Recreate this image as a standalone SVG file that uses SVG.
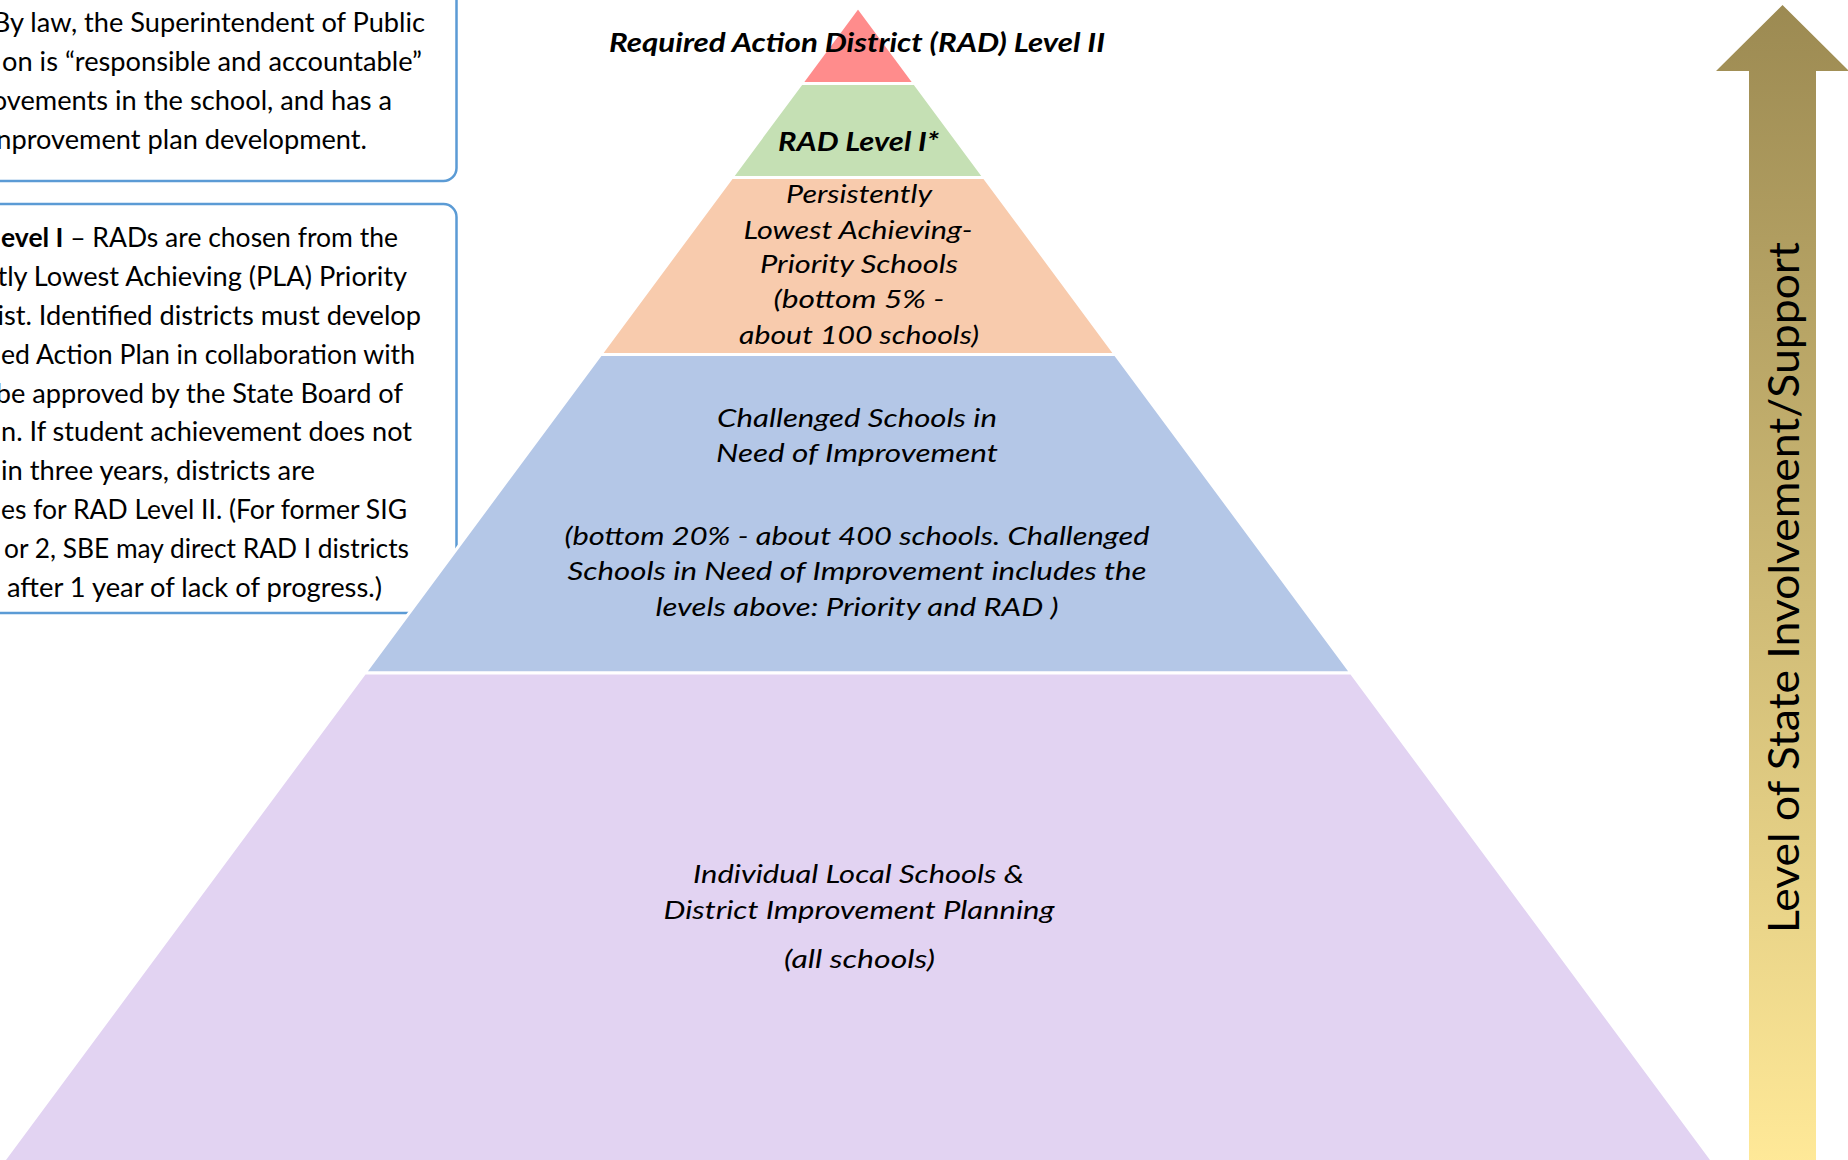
<svg xmlns="http://www.w3.org/2000/svg" width="1848" height="1160" viewBox="0 0 1848 1160">
  <defs>
    <linearGradient id="arrowFill" x1="0" y1="0" x2="0" y2="1">
      <stop offset="0" stop-color="#9C8A52"/>
      <stop offset="1" stop-color="#FFE998"/>
    </linearGradient>
    <style>
      .box { fill: #FFFFFF; stroke: #5B9BD5; stroke-width: 2.5; }
      .note { font-family: Lato, "Liberation Sans", sans-serif; font-size: 27.2px; fill: #000000; text-anchor: end; }
      .strong { font-weight: bold; }
      .tier { stroke: #FFFFFF; stroke-width: 3; stroke-linejoin: miter; }
      .label { font-family: Lato, "Liberation Sans", sans-serif; font-size: 26px; font-style: italic; fill: #000000; text-anchor: middle; }
      .title { font-weight: bold; }
      .axis { font-family: Lato, "Liberation Sans", sans-serif; font-size: 43px; fill: #000000; text-anchor: middle; }
    </style>
  </defs>

  <rect width="1848" height="1160" fill="#FFFFFF"/>

  <!-- Note boxes on the left (text runs past the left edge) -->
  <g id="note-rad2">
    <rect class="box" x="-20" y="-20" width="476.5" height="201" rx="13"/>
    <text class="note" x="425" y="32">By law, the Superintendent of Public</text>
    <text class="note" x="422" y="71" textLength="420" lengthAdjust="spacingAndGlyphs">on is “responsible and accountable”</text>
    <text class="note" x="392" y="110">ovements in the school, and has a</text>
    <text class="note" x="367" y="149">nprovement plan development.</text>
  </g>

  <g id="note-rad1">
    <rect class="box" x="-20" y="204" width="476.5" height="409" rx="13"/>
    <text class="note" x="398" y="247" textLength="397" lengthAdjust="spacingAndGlyphs"><tspan class="strong">evel I</tspan> – RADs are chosen from the</text>
    <text class="note" x="407" y="286">ntly Lowest Achieving (PLA) Priority</text>
    <text class="note" x="421" y="325">ist. Identified districts must develop</text>
    <text class="note" x="415" y="364" textLength="414" lengthAdjust="spacingAndGlyphs">ed Action Plan in collaboration with</text>
    <text class="note" x="403" y="403">be approved by the State Board of</text>
    <text class="note" x="412" y="441" textLength="411" lengthAdjust="spacingAndGlyphs">n. If student achievement does not</text>
    <text class="note" x="315" y="480" textLength="314" lengthAdjust="spacingAndGlyphs">in three years, districts are</text>
    <text class="note" x="407" y="519" textLength="406" lengthAdjust="spacingAndGlyphs">es for RAD Level II. (For former SIG</text>
    <text class="note" x="409" y="558" textLength="405" lengthAdjust="spacingAndGlyphs">or 2, SBE may direct RAD I districts</text>
    <text class="note" x="382" y="597" textLength="375" lengthAdjust="spacingAndGlyphs">after 1 year of lack of progress.)</text>
  </g>

  <!-- Pyramid tiers, top to bottom -->
  <g id="tier-rad2">
    <polygon class="tier" fill="#FF8C8C" points="858,7 914.7,83.5 801.3,83.5"/>
    <text class="label title" x="857" y="52" textLength="496" lengthAdjust="spacingAndGlyphs">Required Action District (RAD) Level II</text>
  </g>

  <g id="tier-rad1">
    <polygon class="tier" fill="#C5E0B4" points="801.3,83.5 914.7,83.5 984.3,177.5 731.7,177.5"/>
    <text class="label title" x="858.5" y="151" textLength="161" lengthAdjust="spacingAndGlyphs">RAD Level I*</text>
  </g>

  <g id="tier-priority">
    <polygon class="tier" fill="#F8CBAD" points="731.7,177.5 984.3,177.5 1115.4,354.5 600.6,354.5"/>
    <text class="label" x="859" y="203" textLength="146" lengthAdjust="spacingAndGlyphs">Persistently</text>
    <text class="label" x="858" y="239" textLength="229" lengthAdjust="spacingAndGlyphs">Lowest Achieving-</text>
    <text class="label" x="859" y="273" textLength="198" lengthAdjust="spacingAndGlyphs">Priority Schools</text>
    <text class="label" x="859" y="308" textLength="171" lengthAdjust="spacingAndGlyphs">(bottom 5% -</text>
    <text class="label" x="859" y="344" textLength="240" lengthAdjust="spacingAndGlyphs">about 100 schools)</text>
  </g>

  <g id="tier-challenged">
    <polygon class="tier" fill="#B4C7E7" points="600.6,354.5 1115.4,354.5 1351.3,673 364.7,673"/>
    <text class="label" x="857" y="427" textLength="280" lengthAdjust="spacingAndGlyphs">Challenged Schools in</text>
    <text class="label" x="857" y="462" textLength="282" lengthAdjust="spacingAndGlyphs">Need of Improvement</text>
    <text class="label" x="857" y="545" textLength="585" lengthAdjust="spacingAndGlyphs">(bottom 20% - about 400 schools. Challenged</text>
    <text class="label" x="857" y="580" textLength="579" lengthAdjust="spacingAndGlyphs">Schools in Need of Improvement includes the</text>
    <text class="label" x="857" y="616" textLength="403" lengthAdjust="spacingAndGlyphs">levels above: Priority and RAD )</text>
  </g>

  <g id="tier-local">
    <polygon class="tier" fill="#E2D3F2" points="364.7,673 1351.3,673 1720,1171 -4,1171"/>
    <text class="label" x="858.5" y="883" textLength="331" lengthAdjust="spacingAndGlyphs">Individual Local Schools &amp;</text>
    <text class="label" x="859" y="919" textLength="391" lengthAdjust="spacingAndGlyphs">District Improvement Planning</text>
    <text class="label" x="859.5" y="968" textLength="151" lengthAdjust="spacingAndGlyphs">(all schools)</text>
  </g>

  <!-- Upward arrow for the level of state involvement -->
  <g id="state-involvement-arrow">
    <polygon fill="url(#arrowFill)" points="1782.5,5 1849,71 1816,71 1816,1165 1749,1165 1749,71 1716,71"/>
    <text class="axis" transform="translate(1799,587.5) rotate(-90)" textLength="691" lengthAdjust="spacingAndGlyphs">Level of State Involvement/Support</text>
  </g>

  <g id="connectors"/>
</svg>
